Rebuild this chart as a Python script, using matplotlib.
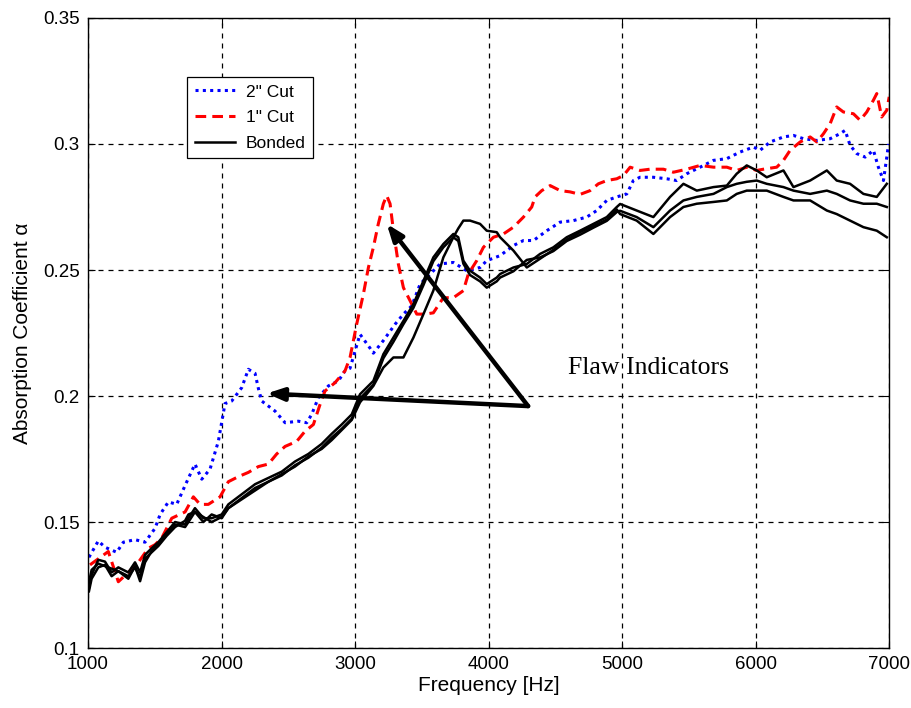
import numpy as np
import matplotlib
matplotlib.use("Agg")
import matplotlib.pyplot as plt

# 2" cut sample
cut2_freq = [1007, 1077, 1127, 1215, 1265, 1352, 1427, 1502, 1540, 1602, 1664, 1727, 1801, 1852, 1914, 1976,
             2026, 2076, 2151, 2201, 2251, 2276, 2301, 2401, 2476, 2575, 2638, 2675, 2725, 2800, 2875, 2925,
             2962, 3037, 3112, 3137, 3212, 3300, 3362, 3425, 3487, 3562, 3637, 3736, 3836, 3936, 3986, 4086,
             4186, 4261, 4336, 4436, 4536, 4635, 4735, 4810, 4885, 4960, 5035, 5084, 5134, 5234, 5334, 5409,
             5484, 5584, 5684, 5784, 5883, 5983, 6033, 6108, 6208, 6283, 6358, 6458, 6558, 6632, 6670, 6707,
             6757, 6820, 6882, 6919, 6957, 6982, 6995]
cut2_alpha = [0.136, 0.1425, 0.140, 0.138, 0.142, 0.143, 0.142, 0.1475, 0.153, 0.158, 0.157, 0.1645, 0.173,
              0.167, 0.171, 0.182, 0.197, 0.198, 0.2033, 0.2106, 0.209, 0.203, 0.198, 0.194, 0.1894, 0.190,
              0.1894, 0.1927, 0.1993, 0.204, 0.206, 0.210, 0.211, 0.2245, 0.219, 0.217, 0.222, 0.2285, 0.2325,
              0.2358, 0.2444, 0.2484, 0.2524, 0.253, 0.2497, 0.251, 0.2537, 0.2557, 0.2597, 0.2617, 0.2617,
              0.2656, 0.269, 0.2696, 0.271, 0.2736, 0.2776, 0.279, 0.2802, 0.2855, 0.2868, 0.2868, 0.2862,
              0.2855, 0.2882, 0.2908, 0.2935, 0.2942, 0.2968, 0.2988, 0.2975, 0.3008, 0.3028, 0.3034, 0.3021,
              0.3014, 0.3021, 0.3041, 0.3054, 0.2995, 0.2962, 0.2948, 0.2975, 0.2908, 0.2855, 0.2948, 0.300]

# 1" cut sample
cut1_freq = [1015, 1152, 1227, 1302, 1377, 1452, 1502, 1552, 1627, 1727, 1789, 1839, 1901, 1989, 2051, 2126,
             2201, 2276, 2351, 2413, 2476, 2563, 2625, 2688, 2738, 2775, 2850, 2925, 2962, 3012, 3062, 3100,
             3137, 3174, 3212, 3237, 3262, 3287, 3324, 3362, 3412, 3462, 3524, 3586, 3661, 3736, 3811, 3848,
             3911, 3961, 4036, 4111, 4186, 4261, 4323, 4348, 4398, 4461, 4536, 4610, 4685, 4760, 4822, 4885,
             4960, 5010, 5060, 5134, 5209, 5309, 5384, 5484, 5584, 5684, 5784, 5858, 5933, 6008, 6058, 6158,
             6208, 6258, 6333, 6408, 6458, 6508, 6558, 6607, 6657, 6732, 6782, 6832, 6882, 6907, 6944, 6982,
             7000]
cut1_alpha = [0.133, 0.1383, 0.1263, 0.130, 0.134, 0.1396, 0.141, 0.1436, 0.1515, 0.154, 0.160, 0.157,
              0.157, 0.160, 0.166, 0.168, 0.1697, 0.172, 0.173, 0.177, 0.180, 0.182, 0.186, 0.1887, 0.1967,
              0.202, 0.2053, 0.210, 0.2152, 0.2285, 0.2404, 0.251, 0.259, 0.2683, 0.2763, 0.2795, 0.2763,
              0.2657, 0.2524, 0.243, 0.2378, 0.2325, 0.2325, 0.233, 0.239, 0.239, 0.2418, 0.2484, 0.2537,
              0.259, 0.263, 0.2643, 0.267, 0.271, 0.275, 0.279, 0.2815, 0.2835, 0.2815, 0.281, 0.280, 0.2815,
              0.2842, 0.2855, 0.2862, 0.2875, 0.2908, 0.2895, 0.290, 0.290, 0.2888, 0.290, 0.2915, 0.2908,
              0.2908, 0.2895, 0.2908, 0.2895, 0.290, 0.2908, 0.2935, 0.2975, 0.3008, 0.3028, 0.3008, 0.3041,
              0.3081, 0.3147, 0.3127, 0.312, 0.3094, 0.3127, 0.3174, 0.320, 0.3107, 0.3134, 0.3187]

# bonded samples (three measurements)
bond_freq = [1007, 1027, 1077, 1127, 1177, 1227, 1302, 1352, 1390, 1427, 1477, 1527, 1589, 1652, 1727, 1752,
             1801, 1864, 1926, 2001, 2051, 2151, 2251, 2351, 2451, 2550, 2650, 2750, 2825, 2900, 2975, 3037,
             3137, 3212, 3287, 3362, 3437, 3512, 3586, 3661, 3736, 3773, 3811, 3861, 3936, 3986, 4061, 4086,
             4186, 4286, 4386, 4485, 4585, 4685, 4785, 4885, 4960, 4985, 5109, 5234, 5359, 5459, 5559, 5684,
             5784, 5858, 5933, 6008, 6083, 6208, 6283, 6408, 6533, 6607, 6707, 6807, 6907, 6982]
bond1_alpha = [0.1237, 0.129, 0.135, 0.1343, 0.130, 0.132, 0.130, 0.134, 0.130, 0.137, 0.1396, 0.142,
               0.146, 0.150, 0.149, 0.1515, 0.1555, 0.1515, 0.1515, 0.153, 0.157, 0.161, 0.165, 0.1675,
               0.170, 0.174, 0.177, 0.181, 0.185, 0.1887, 0.1927, 0.2007, 0.206, 0.2166, 0.2232, 0.2298,
               0.2365, 0.2457, 0.255, 0.2603, 0.2643, 0.263, 0.2537, 0.2497, 0.247, 0.2444, 0.247, 0.2484,
               0.251, 0.2524, 0.2564, 0.259, 0.263, 0.2656, 0.2683, 0.271, 0.275, 0.2762, 0.2736, 0.271,
               0.279, 0.2842, 0.2815, 0.2829, 0.2835, 0.2882, 0.2915, 0.2895, 0.2868, 0.2895, 0.2829, 0.2855,
               0.2895, 0.2855, 0.2842, 0.2802, 0.279, 0.2842]
bond2_alpha = [0.1260, 0.131, 0.1335, 0.1325, 0.1315, 0.1305, 0.1285, 0.132, 0.128, 0.1355, 0.138, 0.1405,
               0.1445, 0.148, 0.1505, 0.153, 0.154, 0.150, 0.153, 0.1515, 0.1555, 0.1595, 0.1635, 0.166,
               0.1685, 0.1725, 0.1755, 0.1795, 0.1835, 0.187, 0.191, 0.1990, 0.2045, 0.2150, 0.2215, 0.2285,
               0.2350, 0.2440, 0.2535, 0.2590, 0.2630, 0.2615, 0.2525, 0.2480, 0.2455, 0.2430, 0.2455,
               0.2470, 0.2495, 0.2540, 0.2550, 0.2575, 0.2615, 0.2640, 0.2668, 0.2695, 0.2730, 0.2735,
               0.271, 0.267, 0.2736, 0.2776, 0.279, 0.2802, 0.2829, 0.2842, 0.2850, 0.2855, 0.2842, 0.2829,
               0.2815, 0.2802, 0.2815, 0.2802, 0.2776, 0.2763, 0.2763, 0.275]
bond3_alpha = [0.1225, 0.1275, 0.132, 0.1330, 0.1285, 0.1305, 0.1275, 0.1325, 0.1265, 0.1340, 0.1385,
               0.1410, 0.1450, 0.1490, 0.1480, 0.150, 0.154, 0.152, 0.150, 0.1520, 0.1555, 0.1590, 0.1625,
               0.1660, 0.1690, 0.1720, 0.1760, 0.1790, 0.1825, 0.1865, 0.1905, 0.1975, 0.2040, 0.2113,
               0.2153, 0.2153, 0.2232, 0.2325, 0.2418, 0.255, 0.263, 0.2665, 0.2696, 0.2696, 0.2683, 0.2656,
               0.2650, 0.263, 0.2577, 0.2510, 0.2545, 0.2580, 0.2620, 0.2650, 0.2675, 0.2700, 0.2740,
               0.2722, 0.2696, 0.2643, 0.271, 0.275, 0.2763, 0.2770, 0.2776, 0.2802, 0.2815, 0.2815, 0.2815,
               0.2790, 0.2776, 0.2776, 0.2736, 0.2722, 0.2696, 0.267, 0.2656, 0.263]

# arrows: tail shared, heads on the two flaw peaks
arrow_tail = (4296, 0.196)
arrow_heads = [(2338, 0.2010), (3237, 0.2683)]

plt.rcParams['font.family'] = ['Liberation Sans', 'DejaVu Sans']

fig = plt.figure(figsize=(9.12, 7.08), dpi=100)
ax = fig.add_axes([0.0965, 0.0847, 0.8785, 0.8899])

ax.plot(cut2_freq, cut2_alpha, color='#0000FF', linestyle=(0, (1, 1.4)), linewidth=2.2, label='2" Cut')
ax.plot(cut1_freq, cut1_alpha, color='#FF0000', linestyle=(0, (3.5, 2)), linewidth=2.2, label='1" Cut')
ax.plot(bond_freq, bond1_alpha, color='black', linewidth=1.8, label='Bonded')
ax.plot(bond_freq, bond2_alpha, color='black', linewidth=1.8)
ax.plot(bond_freq, bond3_alpha, color='black', linewidth=1.8)

for head in arrow_heads:
    ax.annotate('', xy=head, xytext=arrow_tail,
                arrowprops=dict(arrowstyle='-|>,head_length=1.0,head_width=0.38',
                                color='black', lw=3.2, shrinkA=0, shrinkB=0))
ax.text(4595, 0.2111, 'Flaw Indicators', family='Liberation Serif', fontsize=18.5, va='center', ha='left')

ax.set_xlim(1000, 7000)
ax.set_ylim(0.1, 0.35)
ax.set_xticks(np.arange(1000, 7001, 1000))
ax.set_yticks([0.1, 0.15, 0.2, 0.25, 0.3, 0.35])
ax.set_yticklabels(['0.1', '0.15', '0.2', '0.25', '0.3', '0.35'])
ax.tick_params(direction='in', top=True, right=True, length=5, labelsize=13.5, pad=6)
ax.grid(True, color='black', linestyle=(0, (4, 4)), linewidth=0.9)
for spine in ax.spines.values():
    spine.set_linewidth(1.0)

ax.set_xlabel('Frequency [Hz]', fontsize=15, labelpad=2)
ax.set_ylabel('Absorption Coefficient α', fontsize=15, labelpad=8)

leg = ax.legend(loc='upper left', bbox_to_anchor=(0.124, 0.907), borderaxespad=0, fancybox=False,
                framealpha=1, edgecolor='black', fontsize=12.5, handlelength=2.3, handletextpad=0.6,
                borderpad=0.45, labelspacing=0.6)
leg.get_frame().set_linewidth(0.9)

fig.savefig('out.png', dpi=100)
